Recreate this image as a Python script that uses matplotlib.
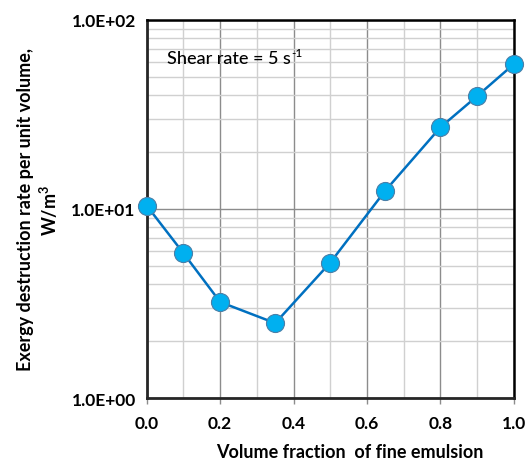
import matplotlib
matplotlib.use('Agg')
import matplotlib.pyplot as plt
from matplotlib.ticker import FixedLocator, LogLocator, NullFormatter

vol_fraction = [0.0, 0.1, 0.2, 0.35, 0.5, 0.65, 0.8, 0.9, 1.0]
exergy_rate = [10.4, 5.83, 3.22, 2.49, 5.2, 12.5, 27.0, 39.5, 58.3]
x_ticks = [0.0, 0.2, 0.4, 0.6, 0.8, 1.0]
y_ticks = [1, 10, 100]
y_tick_labels = ['1.0E+00', '1.0E+01', '1.0E+02']

plt.rcParams['font.family'] = ['Lato', 'DejaVu Sans']
plt.rcParams['mathtext.fontset'] = 'custom'
plt.rcParams['mathtext.rm'] = 'Lato'
plt.rcParams['mathtext.bf'] = 'Lato:bold'

fig = plt.figure(figsize=(5.28, 4.64), dpi=100)
ax = fig.add_axes([0.278, 0.140, 0.695, 0.815])

ax.set_yscale('log')
ax.set_xlim(0, 1)
ax.set_ylim(1, 100)

ax.xaxis.set_major_locator(FixedLocator(x_ticks))
ax.xaxis.set_minor_locator(FixedLocator([0.1, 0.3, 0.5, 0.7, 0.9]))
ax.set_xticklabels(['%.1f' % v for v in x_ticks], fontweight='bold', fontsize=12.5)
ax.yaxis.set_major_locator(FixedLocator(y_ticks))
ax.yaxis.set_minor_locator(LogLocator(base=10, subs=range(2, 10)))
ax.yaxis.set_minor_formatter(NullFormatter())
ax.set_yticklabels(y_tick_labels, fontweight='bold', fontsize=12.5)

ax.grid(True, which='major', color='#8c8c8c', linewidth=1)
ax.grid(True, which='minor', color='#d0d0d0', linewidth=1)
ax.set_axisbelow(True)

ax.tick_params(axis='x', which='major', length=4, width=1, color='#8c8c8c', pad=8)
ax.tick_params(axis='x', which='minor', length=0)
ax.tick_params(axis='y', which='both', length=0, pad=8)

for side in ['left', 'bottom']:
    ax.spines[side].set_linewidth(2)
    ax.spines[side].set_color('#262626')
for side in ['top', 'right']:
    ax.spines[side].set_linewidth(1.8)
    ax.spines[side].set_color('black')

ax.plot(vol_fraction, exergy_rate, color='#0070C0', linewidth=1.8, marker='o',
        markersize=13, markerfacecolor='#00B0F0', markeredgecolor='#4a7fa8',
        markeredgewidth=0.8, clip_on=False, zorder=5)

t1 = ax.text(0.055, 0.90, 'Shear rate = 5 s', transform=ax.transAxes,
             fontsize=13, va='center', ha='left', fontweight='medium')
ax.annotate('-1', xy=(1.0, 1.0), xycoords=t1, fontsize=8.5, va='top', ha='left',
            xytext=(0.5, 2), textcoords='offset points', fontweight='medium')

ax.set_xlabel('Volume fraction  of fine emulsion', fontweight='bold', fontsize=13)
ax.xaxis.set_label_coords(0.553, -0.118)
ax.set_ylabel('Exergy destruction rate per unit volume,\nW/m$^{\\mathbf{3}}$', fontweight='bold',
              fontsize=13, labelpad=8)

fig.savefig('out.png', dpi=100)
